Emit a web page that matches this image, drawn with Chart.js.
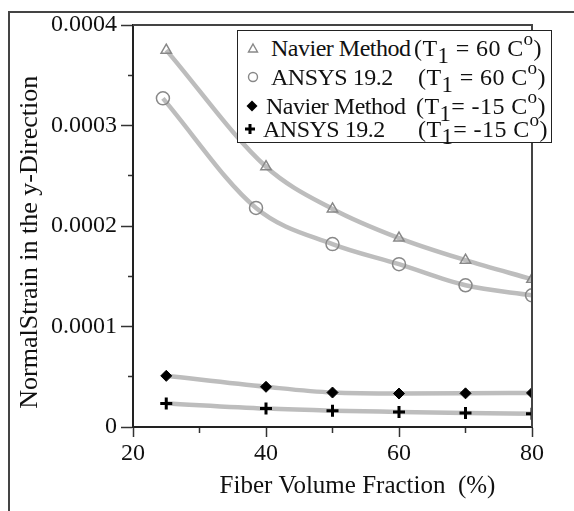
<!DOCTYPE html>
<html>
<head>
<meta charset="utf-8">
<script src="https://cdn.jsdelivr.net/npm/chart.js@4.4.1/dist/chart.umd.min.js"></script>
<style>
  html, body { margin:0; padding:0; background:#fff; overflow:hidden; }
  #wrap { position:relative; width:574px; height:511px; }
  #frame { position:absolute; left:8px; top:11px; width:700px; height:700px; border:2px solid #444; box-sizing:border-box; }
  canvas { position:absolute; left:0; top:0; }
  #legend { position:absolute; left:237px; top:30px; width:315px; height:113px; border:1.5px solid #222; background:#fff; box-sizing:border-box;
            font-family:"Liberation Serif", serif; font-size:24px; color:#111; }
  #legend span { position:absolute; line-height:24px; white-space:nowrap; letter-spacing:-0.5px; }
  #legend span.r { letter-spacing:0.4px; }
  #legend sub { font-size:0.95em; vertical-align:-0.3em; line-height:0; }
  #legend sup { font-size:0.8em; vertical-align:0.55em; line-height:0; }
  #legend svg { position:absolute; }
</style>
</head>
<body>
<div id="wrap">
  <div id="frame"></div>
  <canvas id="c" width="574" height="511"></canvas>
  <div id="legend"></div>
</div>
<script>
// ---- data ----
const xNavier60 = [25, 40, 50, 60, 70, 80];
const yNavier60 = [0.000375, 0.000259, 0.000217, 0.000188, 0.000166, 0.000147];
const xAnsys60 = [24.5, 38.5, 50, 60, 70, 80];
const yAnsys60 = [0.000327, 0.000218, 0.000182, 0.000162, 0.000141, 0.000131];
const xNavierM15 = [25, 40, 50, 60, 70, 80];
const yNavierM15 = [0.0000509, 0.00004, 0.0000343, 0.0000333, 0.0000335, 0.0000339];
const xAnsysM15 = [25, 40, 50, 60, 70, 80];
const yAnsysM15 = [0.0000235, 0.0000183, 0.0000162, 0.000015, 0.0000139, 0.0000133];

const seriesNames = ['Navier Method', 'ANSYS 19.2', 'Navier Method', 'ANSYS 19.2'];
const seriesConds = ['(T<sub>1</sub> = 60 C<sup>o</sup>)', '(T<sub>1</sub> = 60 C<sup>o</sup>)',
                     '(T<sub>1</sub>= -15 C<sup>o</sup>)', '(T<sub>1</sub>= -15 C<sup>o</sup>)'];
const yTickLabels = ['0', '0.0001', '0.0002', '0.0003', '0.0004'];
const xTickLabels = ['20', '40', '60', '80'];
const xTitle = 'Fiber Volume Fraction  (%)';
const yTitle = 'NormalStrain in the y-Direction';

function pts(xs, ys) { return xs.map((x, i) => ({x: x, y: ys[i]})); }

// ---- legend (HTML, real text) ----
const legendRows = [
  {cy:17, mx:15, tl:33, tr:176, mk:'tri'},
  {cy:46, mx:15, tl:33, tr:180, mk:'circ'},
  {cy:75, mx:14, tl:28, tr:178, mk:'dia'},
  {cy:98, mx:12, tl:25, tr:180, mk:'plus'}
];
const lg = document.getElementById('legend');
let html = '';
legendRows.forEach((r, i) => {
  let shape = '';
  if (r.mk === 'tri') shape = '<polygon points="6,2 10.5,10 1.5,10" fill="none" stroke="#888" stroke-width="1.4"/>';
  if (r.mk === 'circ') shape = '<circle cx="6" cy="6" r="4.5" fill="none" stroke="#888" stroke-width="1.4"/>';
  if (r.mk === 'dia') shape = '<polygon points="6,0.5 11.5,6 6,11.5 0.5,6" fill="#000"/>';
  if (r.mk === 'plus') shape = '<path d="M6,1 V11 M1,6 H11" stroke="#000" stroke-width="3"/>';
  html += '<svg width="12" height="12" style="left:' + (r.mx - 6) + 'px;top:' + (r.cy - 6) + 'px">' + shape + '</svg>';
  html += '<span style="left:' + r.tl + 'px;top:' + (r.cy - 12) + 'px">' + seriesNames[i] + '</span>';
  html += '<span class="r" style="left:' + r.tr + 'px;top:' + (r.cy - 12) + 'px">' + seriesConds[i] + '</span>';
});
lg.innerHTML = html;

const FONT = '"Liberation Serif", serif';
const lineGrey = '#bdbdbd';

const framePlugin = {
  id: 'frame',
  afterDatasetsDraw(chart) {
    const a = chart.chartArea, ctx = chart.ctx;
    ctx.save();
    ctx.strokeStyle = '#444';
    ctx.lineWidth = 2;
    ctx.beginPath();
    ctx.moveTo(a.left, a.top);
    ctx.lineTo(a.right, a.top);
    ctx.lineTo(a.right, a.bottom);
    ctx.stroke();
    ctx.restore();
  }
};

new Chart(document.getElementById('c'), {
  type: 'scatter',
  data: {
    datasets: [
      { data: pts(xNavier60, yNavier60), showLine: true, borderColor: lineGrey, borderWidth: 4.5,
        cubicInterpolationMode: 'monotone', pointStyle: 'triangle', pointRadius: 6,
        pointBorderColor: '#888', pointBackgroundColor: 'rgba(255,255,255,0)', pointBorderWidth: 1.5 },
      { data: pts(xAnsys60, yAnsys60), showLine: true, borderColor: lineGrey, borderWidth: 4.5,
        cubicInterpolationMode: 'monotone', pointStyle: 'circle', pointRadius: 6.5,
        pointBorderColor: '#888', pointBackgroundColor: 'rgba(255,255,255,0)', pointBorderWidth: 1.5 },
      { data: pts(xNavierM15, yNavierM15), showLine: true, borderColor: lineGrey, borderWidth: 4.5,
        cubicInterpolationMode: 'monotone', pointStyle: 'rectRot', pointRadius: 5.5,
        pointBorderColor: '#000', pointBackgroundColor: '#000', pointBorderWidth: 1 },
      { data: pts(xAnsysM15, yAnsysM15), showLine: true, borderColor: lineGrey, borderWidth: 4.5,
        cubicInterpolationMode: 'monotone', pointStyle: 'cross', pointRadius: 6,
        pointBorderColor: '#000', pointBackgroundColor: '#000', pointBorderWidth: 3 }
    ]
  },
  options: {
    responsive: false,
    animation: false,
    devicePixelRatio: 1,
    layout: { padding: { left: 0, right: 42, top: 25, bottom: 0 } },
    plugins: { legend: { display: false }, tooltip: { enabled: false } },
    scales: {
      x: {
        type: 'linear', min: 20, max: 80,
        afterFit(s) { s.height = 84; },
        border: { display: true, color: '#222', width: 2 },
        grid: { display: true, drawOnChartArea: false, drawTicks: true, tickLength: 10,
                tickColor: '#333', tickWidth: 1.5,
                tickBorderDash: (c) => (c.index % 2 === 0 ? [] : [5, 100]) },
        ticks: { stepSize: 10, autoSkip: false, maxRotation: 0, padding: 2, color: '#111',
                 font: { family: FONT, size: 24 },
                 callback: (v, i) => (i % 2 === 0 ? xTickLabels[i / 2] : '') },
        title: { display: true, text: '        ' + xTitle, color: '#111', font: { family: FONT, size: 25 },
                 padding: { top: 0, bottom: 10 } }
      },
      y: {
        type: 'linear', min: 0, max: 0.0004,
        afterFit(s) { s.width = 133; },
        border: { display: true, color: '#222', width: 2 },
        grid: { display: true, drawOnChartArea: false, drawTicks: true, tickLength: 12,
                tickColor: '#333', tickWidth: 1.5,
                tickBorderDash: (c) => (c.index % 2 === 0 ? [] : [0, 7, 5, 100]) },
        ticks: { stepSize: 0.00005, autoSkip: false, padding: 4, color: '#111',
                 font: { family: FONT, size: 24 },
                 callback: (v, i) => (i % 2 === 0 ? yTickLabels[i / 2] : '') },
        title: { display: true, text: yTitle + '     ', color: '#111', font: { family: FONT, size: 26 },
                 padding: { top: 15, bottom: 0 } }
      }
    }
  },
  plugins: [framePlugin]
});
</script>
</body>
</html>
